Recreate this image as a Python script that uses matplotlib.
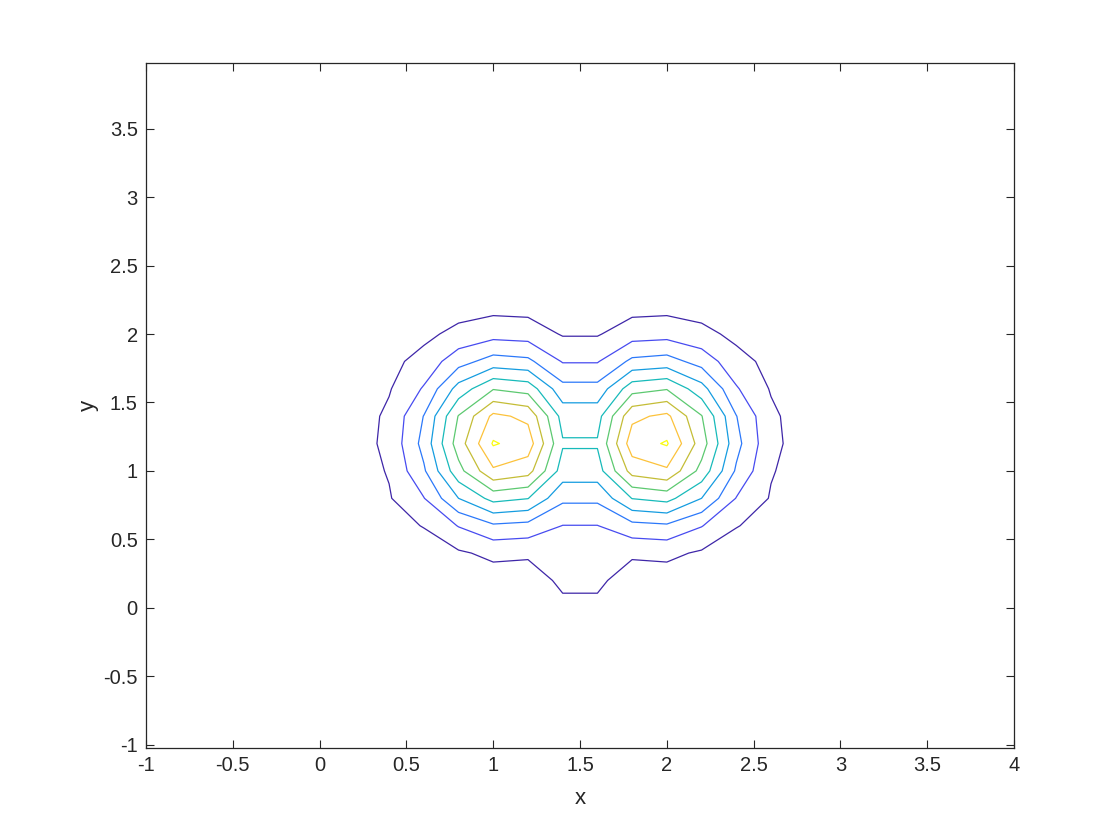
# Contour plot of two neighbouring peaks, drawn in the style of a MATLAB figure
# Grid values were read off the reference picture (step 0.2 in x and y)

import numpy as np
import matplotlib
matplotlib.use("Agg")
import matplotlib.pyplot as plt


# Grid coordinates
x_grid = [0.0, 0.2, 0.4, 0.6, 0.8, 1.0, 1.2, 1.4, 1.6, 1.8, 2.0, 2.2, 2.4, 2.6, 2.8, 3.0]
y_grid = [0.0, 0.2, 0.4, 0.6, 0.8, 1.0, 1.2, 1.4, 1.6, 1.8, 2.0, 2.2, 2.4]

# Surface values, one list per row of the grid (y = 0.0 ... 2.4)
z_y00 = [0.02, 0.05, 0.10, 0.15, 0.16, 0.22, 0.21, 0.77, 0.77, 0.21, 0.22, 0.16, 0.15, 0.10, 0.05, 0.02]
z_y02 = [0.04, 0.10, 0.20, 0.30, 0.39, 0.55, 0.52, 1.20, 1.20, 0.52, 0.55, 0.39, 0.30, 0.20, 0.10, 0.04]
z_y04 = [0.06, 0.20, 0.35, 0.45, 0.87, 1.22, 1.15, 1.50, 1.50, 1.15, 1.22, 0.87, 0.45, 0.35, 0.20, 0.06]
z_y06 = [0.08, 0.30, 0.60, 1.05, 2.05, 2.85, 2.69, 1.98, 1.98, 2.69, 2.85, 2.05, 1.05, 0.60, 0.30, 0.08]
z_y08 = [0.10, 0.45, 0.92, 1.96, 4.00, 5.33, 5.03, 3.22, 3.22, 5.03, 5.33, 4.00, 1.96, 0.92, 0.45, 0.10]
z_y10 = [0.12, 0.55, 1.07, 2.86, 5.66, 7.84, 7.40, 4.55, 4.55, 7.40, 7.84, 5.66, 2.86, 1.07, 0.55, 0.12]
z_y12 = [0.13, 0.563, 1.235, 3.33, 6.50, 9.10, 8.54, 5.10, 5.10, 8.54, 9.10, 6.50, 3.33, 1.235, 0.563, 0.13]
z_y14 = [0.12, 0.46, 1.20, 3.03, 6.05, 8.23, 7.77, 4.63, 4.63, 7.77, 8.23, 6.05, 3.03, 1.20, 0.46, 0.12]
z_y16 = [0.10, 0.35, 0.92, 2.10, 4.40, 5.94, 5.61, 3.34, 3.34, 5.61, 5.94, 4.40, 2.10, 0.92, 0.35, 0.10]
z_y18 = [0.08, 0.25, 0.72, 1.35, 2.60, 3.42, 3.23, 1.93, 1.93, 3.23, 3.42, 2.60, 1.35, 0.72, 0.25, 0.08]
z_y20 = [0.06, 0.15, 0.40, 0.75, 1.30, 1.64, 1.55, 0.92, 0.92, 1.55, 1.64, 1.30, 0.75, 0.40, 0.15, 0.06]
z_y22 = [0.04, 0.08, 0.20, 0.30, 0.55, 0.69, 0.65, 0.39, 0.39, 0.65, 0.69, 0.55, 0.30, 0.20, 0.08, 0.04]
z_y24 = [0.02, 0.04, 0.08, 0.12, 0.20, 0.25, 0.24, 0.14, 0.14, 0.24, 0.25, 0.20, 0.12, 0.08, 0.04, 0.02]

# Contour levels
levels = [1, 2, 3, 4, 5, 6, 7, 8, 9]

# Ticks
x_ticks = [-1, -0.5, 0, 0.5, 1, 1.5, 2, 2.5, 3, 3.5, 4]
y_ticks = [-1, -0.5, 0, 0.5, 1, 1.5, 2, 2.5, 3, 3.5]

# parula colours, one per level
parula9 = [
    (0.2422, 0.1504, 0.6603),
    (0.2780, 0.2950, 0.9400),
    (0.1700, 0.4700, 0.9800),
    (0.0800, 0.6100, 0.8800),
    (0.0900, 0.7300, 0.7300),
    (0.3600, 0.7900, 0.4400),
    (0.7700, 0.7400, 0.2100),
    (0.9900, 0.7600, 0.2300),
    (0.9760, 0.9830, 0.0540),
]


def build_table():
    z = np.array([z_y00, z_y02, z_y04, z_y06, z_y08, z_y10, z_y12,
                  z_y14, z_y16, z_y18, z_y20, z_y22, z_y24])
    xx, yy = np.meshgrid(x_grid, y_grid)
    return xx, yy, z


def draw(xx, yy, z):
    plt.rcParams["font.family"] = ["Liberation Sans", "DejaVu Sans"]
    plt.rcParams["axes.unicode_minus"] = False

    fig = plt.figure(figsize=(11.2, 8.4), dpi=100)
    ax = fig.add_axes([0.1304, 0.1095, 0.775, 0.8155])

    ax.contour(xx, yy, z, levels=levels, colors=parula9, linewidths=0.9)

    ax.set_xlim(-1, 4)
    ax.set_ylim(-1.024, 3.98)
    ax.set_xticks(x_ticks)
    ax.set_yticks(y_ticks)
    ax.set_xticklabels([f"{t:g}" for t in x_ticks])
    ax.set_yticklabels([f"{t:g}" for t in y_ticks])

    ax.tick_params(direction="in", length=5.5, width=0.8, labelsize=14.5,
                   top=True, right=True, pad=6, colors="#262626")
    for side in ax.spines.values():
        side.set_linewidth(0.9)
        side.set_color("#262626")

    ax.set_xlabel("x", fontsize=16, color="#262626", labelpad=9)
    ax.set_ylabel("y", fontsize=16, color="#262626", labelpad=3)

    fig.savefig("out.png", dpi=100)


def main():
    xx, yy, z = build_table()
    draw(xx, yy, z)


if __name__ == "__main__":
    main()
